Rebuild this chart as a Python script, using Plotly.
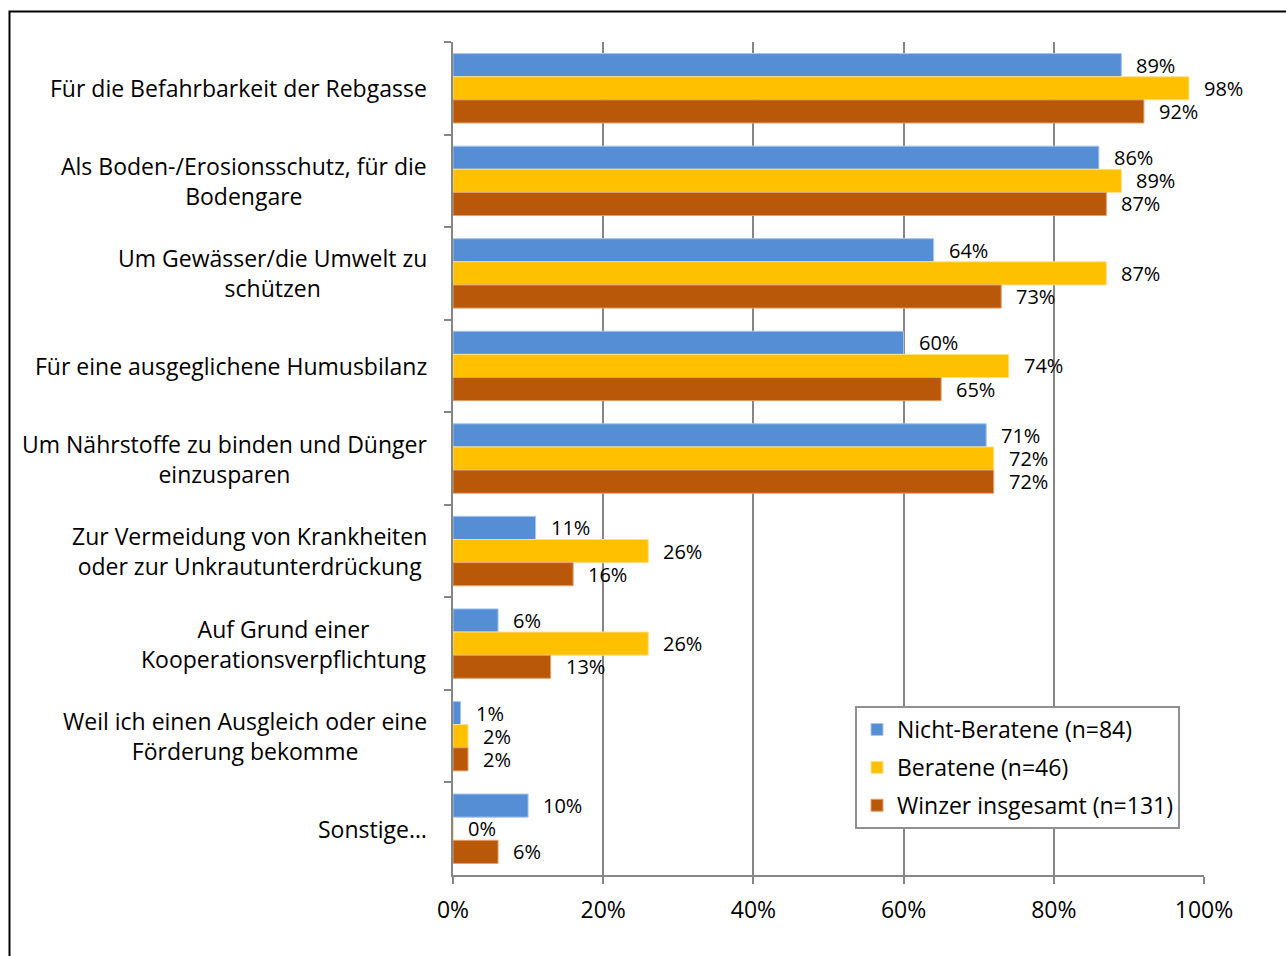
import plotly.graph_objects as go

# Motive categories (top to bottom)
categories = [
    "Für die Befahrbarkeit der Rebgasse",
    "Als Boden-/Erosionsschutz, für die<br>Bodengare",
    "Um Gewässer/die Umwelt zu<br>schützen",
    "Für eine ausgeglichene Humusbilanz",
    "Um Nährstoffe zu binden und Dünger<br>einzusparen",
    "Zur Vermeidung von Krankheiten<br>oder zur Unkrautunterdrückung",
    "Auf Grund einer<br>Kooperationsverpflichtung",
    "Weil ich einen Ausgleich oder eine<br>Förderung bekomme",
    "Sonstige…",
]
cat_ids = [f"c{i}" for i in range(len(categories))]

series_names = ["Nicht-Beratene (n=84)", "Beratene (n=46)", "Winzer insgesamt (n=131)"]
nicht_beratene = [89, 86, 64, 60, 71, 11, 6, 1, 10]
beratene = [98, 89, 87, 74, 72, 26, 26, 2, 0]
winzer_gesamt = [92, 87, 73, 65, 72, 16, 13, 2, 6]
series_values = [nicht_beratene, beratene, winzer_gesamt]
colors = ["#558ED5", "#FFC000", "#BA580A"]
edge_colors = ["#A9C6EC", "#FFE08A", "#E0A070"]

W, H = 1286, 956
L, R, T, B = 453, 82, 42, 81
FONT = "Open Sans"

def px_to_paper_x(px):
    return (px - L) / (W - L - R)

def px_to_paper_y(py):
    return (H - B - py) / (H - T - B)

fig = go.Figure()
for name, vals, col, ecol in zip(series_names, series_values, colors, edge_colors):
    fig.add_trace(go.Bar(
        y=cat_ids, x=vals, name=name, orientation="h",
        marker=dict(color=col, line=dict(color=ecol, width=1)),
        legendgroup=name,
    ))

# value labels placed just beyond each bar end
n_series = len(series_values)
group_frac = 0.75
for si, vals in enumerate(series_values):
    offset = (-group_frac / 2 + group_frac / n_series * (si + 0.5))
    for ci, v in enumerate(vals):
        fig.add_annotation(
            x=v, y=ci + offset, xref="x", yref="y",
            text=f"{v}%", showarrow=False, xanchor="left", yanchor="middle",
            xshift=14, borderpad=0,
            font=dict(family=FONT, size=20, color="#000000"),
        )

# category labels, centred line by line and right-aligned as a block
for ci, lab in enumerate(categories):
    fig.add_annotation(
        x=0, y=ci, xref="paper", yref="y", text=lab, showarrow=False,
        xanchor="right", yanchor="middle", align="center", xshift=-24,
        font=dict(family=FONT, size=23, color="#000000"),
    )

# outer frame
fig.add_shape(
    type="rect", xref="paper", yref="paper",
    x0=px_to_paper_x(9.5), x1=px_to_paper_x(1300),
    y0=px_to_paper_y(970), y1=px_to_paper_y(11.5),
    line=dict(color="#000000", width=2), layer="above",
)

grid_col = "#868686"
fig.update_layout(
    width=W, height=H,
    margin=dict(l=L, r=R, t=T, b=B),
    paper_bgcolor="white", plot_bgcolor="white",
    barmode="group", bargap=0.25, bargroupgap=0,
    font=dict(family=FONT, size=20, color="#000000"),
    xaxis=dict(
        range=[0, 100], tickvals=[0, 20, 40, 60, 80, 100],
        ticktext=["0%", "20%", "40%", "60%", "80%", "100%"],
        showgrid=True, gridcolor=grid_col, gridwidth=2,
        showline=True, linecolor=grid_col, linewidth=2,
        ticks="outside", ticklen=7, tickcolor=grid_col, tickwidth=2,
        zeroline=False, tickfont=dict(family=FONT, size=23),
        ticklabelstandoff=6,
    ),
    yaxis=dict(
        type="category", categoryorder="array", categoryarray=cat_ids,
        autorange="reversed", showticklabels=False,
        showline=True, linecolor=grid_col, linewidth=2,
        ticks="outside", ticklen=7, tickcolor=grid_col, tickwidth=2,
        tickson="boundaries", showgrid=False,
    ),
    legend=dict(
        x=px_to_paper_x(855), y=px_to_paper_y(706),
        xanchor="left", yanchor="top",
        bordercolor="#909090", borderwidth=2, bgcolor="white",
        font=dict(family=FONT, size=23, color="#000000"),
        traceorder="grouped", tracegroupgap=5,
        itemwidth=30,
    ),
)

fig.write_html("out.html")
